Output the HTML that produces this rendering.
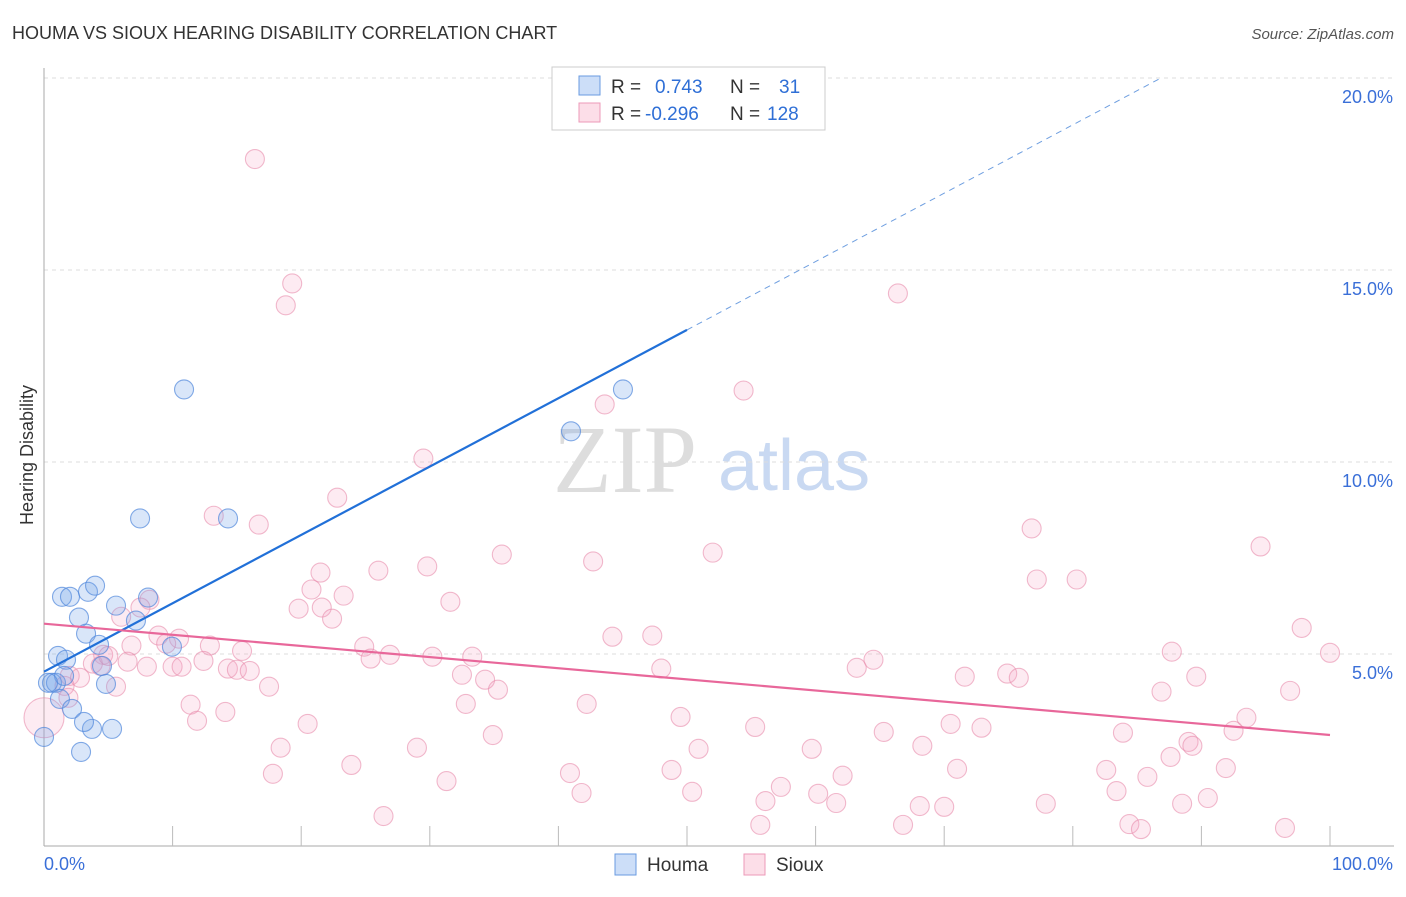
<!DOCTYPE html>
<html><head><meta charset="utf-8"><style>
body{margin:0;background:#fff;font-family:"Liberation Sans",sans-serif;}
</style></head><body>
<svg id="chart" width="1406" height="892" viewBox="0 0 1406 892" xmlns="http://www.w3.org/2000/svg" font-family="Liberation Sans, sans-serif">
<text x="12" y="39" font-size="18" fill="#333">HOUMA VS SIOUX HEARING DISABILITY CORRELATION CHART</text>
<text x="1394" y="39" font-size="15" fill="#555" font-style="italic" text-anchor="end">Source: ZipAtlas.com</text>
<g>
<text x="553" y="492" font-size="96" fill="#ddd" style="font-family:'Liberation Serif',serif">ZIP</text>
<text x="718" y="490" font-size="72" fill="#c9d9f2">atlas</text>
</g>
<g id="grid"></g>
<g id="axes"></g>
<g id="pts"></g>
<g id="lines"></g>
<text transform="translate(33,455) rotate(-90)" font-size="18" fill="#333" text-anchor="middle">Hearing Disability</text>
<g>
<rect x="552" y="67" width="273" height="63" fill="#fff" stroke="#ccc"/>
<rect x="579" y="76" width="21" height="19" fill="rgba(110,160,235,0.35)" stroke="#6a9be0"/>
<rect x="579" y="103" width="21" height="19" fill="rgba(245,160,190,0.35)" stroke="#ec9ab8"/>
<text x="611" y="93" font-size="19" fill="#333">R =</text>
<text x="655" y="93" font-size="19" fill="#2f6fd6">0.743</text>
<text x="730" y="93" font-size="19" fill="#333">N =</text>
<text x="779" y="93" font-size="19" fill="#2f6fd6">31</text>
<text x="611" y="120" font-size="19" fill="#333">R =</text>
<text x="645" y="120" font-size="19" fill="#2f6fd6">-0.296</text>
<text x="730" y="120" font-size="19" fill="#333">N =</text>
<text x="767" y="120" font-size="19" fill="#2f6fd6">128</text>
</g>
<g>
<rect x="615" y="854" width="21" height="21" fill="rgba(110,160,235,0.35)" stroke="#6a9be0"/>
<text x="647" y="871" font-size="19" fill="#333">Houma</text>
<rect x="744" y="854" width="21" height="21" fill="rgba(245,160,190,0.35)" stroke="#ec9ab8"/>
<text x="776" y="871" font-size="19" fill="#333">Sioux</text>
</g>
</svg>
<script>
const yTicks=[5,10,15,20];
const yTickLabels=["5.0%","10.0%","15.0%","20.0%"];
const xEndLabels=["0.0%","100.0%"];
const houmaX=[0,0.62,0.93,1.09,1.40,1.71,1.24,1.56,2.02,2.18,2.72,3.27,3.42,3.97,4.28,4.51,4.82,5.29,3.73,3.11,2.88,5.60,7.15,7.47,8.09,9.95,10.89,14.31,40.98,45.02,0.31];
const houmaY=[2.84,4.25,4.25,4.95,6.49,4.85,3.83,4.43,6.49,3.57,5.95,5.53,6.62,6.78,5.24,4.69,4.22,3.05,3.05,3.23,2.45,6.26,5.87,8.53,6.47,5.19,11.89,8.53,10.80,11.89,4.25];
const siouxX=[16.4,19.3,18.8,66.4,54.4,43.6,29.5,22.8,13.2,16.7,76.8,94.6,52.0,35.6,42.7,29.8,26.0,21.5,77.2,80.3,20.8,23.3,31.6,8.2,19.8,21.6,7.5,6.0,22.4,44.2,47.3,8.9,10.5,9.5,97.8,12.9,6.8,24.9,15.4,87.7,100,26.9,30.2,33.3,25.4,4.6,6.5,3.8,4.4,8.0,10.0,10.7,12.4,14.3,15.0,16.0,48.0,63.2,64.5,32.5,71.6,74.9,75.8,89.6,34.3,2.0,2.8,1.6,5.6,17.5,35.3,86.9,96.9,1.9,11.4,14.1,32.8,42.2,11.9,20.5,49.5,55.3,70.5,72.9,93.5,92.5,65.3,83.9,34.9,68.3,29.0,18.4,50.9,59.7,89.0,89.3,87.6,23.9,82.6,48.8,71.0,91.9,40.9,17.8,62.1,85.8,31.3,57.3,83.4,41.8,50.4,60.2,90.5,56.1,61.6,77.9,88.5,68.1,70.0,26.4,55.7,66.8,84.4,85.3,96.5,5.0,0];
const siouxY=[17.89,14.65,14.08,14.39,11.86,11.50,10.09,9.07,8.60,8.37,8.27,7.80,7.64,7.59,7.41,7.28,7.17,7.12,6.94,6.94,6.68,6.52,6.36,6.41,6.18,6.21,6.21,5.97,5.92,5.45,5.48,5.48,5.40,5.27,5.68,5.22,5.22,5.19,5.08,5.06,5.03,4.98,4.93,4.93,4.88,4.98,4.80,4.75,4.69,4.67,4.67,4.67,4.82,4.62,4.59,4.56,4.62,4.64,4.85,4.46,4.41,4.49,4.38,4.41,4.33,4.43,4.38,4.17,4.15,4.15,4.07,4.02,4.04,3.86,3.68,3.49,3.70,3.70,3.26,3.18,3.36,3.10,3.18,3.08,3.34,3.00,2.97,2.95,2.89,2.61,2.56,2.56,2.53,2.53,2.71,2.61,2.32,2.11,1.98,1.98,2.01,2.03,1.90,1.88,1.83,1.80,1.69,1.54,1.43,1.38,1.41,1.36,1.25,1.17,1.12,1.10,1.10,1.04,1.02,0.78,0.55,0.55,0.57,0.44,0.47,4.95,3.34];
const houmaTrend=[4.54,0.178];
const siouxTrend=[5.79,-0.029];

const NS="http://www.w3.org/2000/svg";
const X0=44,X1=1330,Y0=846,Y20=78;
const xs=v=>X0+(X1-X0)*v/100;
const ys=v=>Y0-(Y0-Y20)*v/20;
function mk(tag,attrs,parent){const e=document.createElementNS(NS,tag);for(const k in attrs)e.setAttribute(k,attrs[k]);parent.appendChild(e);return e;}
const grid=document.getElementById('grid'),axes=document.getElementById('axes'),pts=document.getElementById('pts'),lines=document.getElementById('lines');
yTicks.forEach((t,i)=>{
  const l=mk('line',{x1:X0,x2:1394,y1:ys(t),y2:ys(t),stroke:'#ddd','stroke-dasharray':'4,4'},grid);
  
  
  const tx=mk('text',{x:1393,y:ys(t)+25,'font-size':18,fill:'#3a6fd8','text-anchor':'end'},grid);
  tx.textContent=yTickLabels[i];
  
  
});
const ya=mk('line',{x1:X0,x2:X0,y1:68,y2:Y0,stroke:'#aaa'},axes);


const xa=mk('line',{x1:X0,x2:1394,y1:Y0,y2:Y0,stroke:'#aaa'},axes);


for(let t=10;t<=100;t+=10){
  const tk=mk('line',{x1:xs(t),x2:xs(t),y1:Y0-20,y2:Y0,stroke:'#bbb'},axes);
  
  
}
[[0,'start',X0],[1,'end',1393]].forEach(([i,a,x])=>{
  const tx=mk('text',{x:x,y:870,'font-size':18,fill:'#3a6fd8','text-anchor':a},axes);
  tx.textContent=xEndLabels[i];
  
  
});
siouxX.forEach((v,i)=>{
  const c=mk('circle',{cx:xs(v),cy:ys(siouxY[i]),r:(i===siouxX.length-1)?20:9.5,fill:'rgba(245,165,195,0.22)',stroke:'rgba(232,140,172,0.6)','stroke-width':1.1},pts);
  
  
});
houmaX.forEach((v,i)=>{
  const c=mk('circle',{cx:xs(v),cy:ys(houmaY[i]),r:9.5,fill:'rgba(120,165,235,0.28)',stroke:'rgba(80,135,220,0.7)','stroke-width':1.1},pts);
  
  
});
const hb=houmaTrend,sb=siouxTrend;
const l1=mk('line',{x1:xs(0),y1:ys(hb[0]),x2:xs(50),y2:ys(hb[0]+hb[1]*50),stroke:'#2170d8','stroke-width':2.2},lines);


const xe=Math.min(100,(20-hb[0])/hb[1]);
const l2=mk('line',{x1:xs(50),y1:ys(hb[0]+hb[1]*50),x2:xs(xe),y2:ys(hb[0]+hb[1]*xe),stroke:'#6f9fe0','stroke-width':1,'stroke-dasharray':'6,5'},lines);


const l3=mk('line',{x1:xs(0),y1:ys(sb[0]),x2:xs(100),y2:ys(sb[0]+sb[1]*100),stroke:'#e8679a','stroke-width':2.2},lines);


</script>
</body></html>
